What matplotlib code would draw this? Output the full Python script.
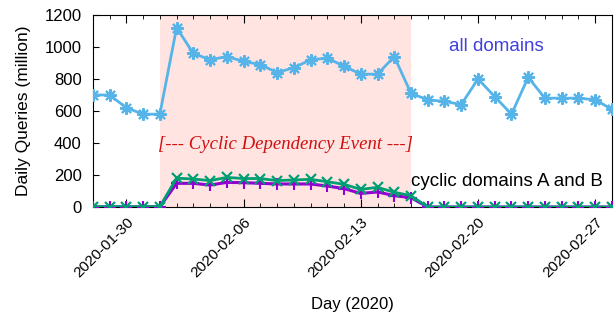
import numpy as np
import pandas as pd
import matplotlib
matplotlib.use("Agg")
import matplotlib.pyplot as plt
import matplotlib.dates as mdates

plt.rcParams['font.family'] = ['Liberation Sans', 'DejaVu Sans']

# data (millions of queries per day)
days = pd.date_range("2020-01-28", "2020-02-28", freq="D")

all_domains = [700, 700, 620, 580, 580, 1120, 960, 920, 940, 910, 890, 840,
               870, 920, 930, 880, 830, 830, 940, 710, 670, 660, 640, 800,
               690, 580, 810, 680, 680, 680, 670, 610]

domain_a = [2, 2, 2, 2, 3, 180, 175, 165, 185, 178, 178, 165,
            169, 173, 158, 142, 110, 123, 92, 71, 0, 0, 0, 0,
            0, 0, 0, 0, 0, 0, 0, 0]

domain_b = [1, 1, 1, 1, 2, 148, 148, 137, 154, 152, 148, 144,
            144, 144, 131, 115, 85, 94, 71, 58, 0, 0, 0, 0,
            0, 0, 0, 0, 0, 0, 0, 0]

event_start = pd.Timestamp("2020-02-01")
event_end = pd.Timestamp("2020-02-16")

fig = plt.figure(figsize=(6.15, 3.18), dpi=100)
ax = fig.add_axes([0.151, 0.349, 0.844, 0.604])

ax.axvspan(event_start, event_end, color='#ffe4e1', lw=0, zorder=0)

star = (8, 2, 0)
ax.plot(days, all_domains, color='#56b4e9', lw=2, marker=star, ms=9,
        mew=1.5, zorder=3)
ax.plot(days, domain_b, color='#9400d3', lw=2.2, marker='+', ms=8,
        mew=1.5, zorder=3)
ax.plot(days, domain_a, color='#009e73', lw=2, marker='x', ms=7,
        mew=1.6, zorder=4)

ax.set_xlim(days[0], days[-1])
ax.set_ylim(0, 1200)
ax.set_yticks(range(0, 1201, 200))

ax.xaxis.set_major_locator(mdates.DayLocator(bymonthday=[6, 13, 20, 27, 30]))
ax.xaxis.set_major_formatter(mdates.DateFormatter('%Y-%m-%d'))
ax.xaxis.set_minor_locator(mdates.DayLocator())
plt.setp(ax.get_xticklabels(), rotation=45, ha='right', rotation_mode='anchor')

ax.tick_params(axis='x', which='major', direction='in', length=6, top=True,
               labelsize=11, pad=6)
ax.tick_params(axis='x', which='minor', direction='in', length=3, top=True)
ax.tick_params(axis='y', direction='in', length=4, labelsize=12, pad=8,
               right=False)

ax.set_xlabel('Day (2020)', fontsize=12, labelpad=12)
ax.set_ylabel('Daily Queries (million)', fontsize=12.5, labelpad=10)

ax.text(pd.Timestamp("2020-02-21") + pd.Timedelta(hours=2), 1000,
        'all domains', color='#4040e0', fontsize=13.5, ha='center',
        va='center')
ax.text(pd.Timestamp("2020-02-08") + pd.Timedelta(hours=12), 390,
        '[--- Cyclic Dependency Event ---]', color='#d01010', fontsize=13.5,
        family=['Liberation Serif'], style='italic', ha='center', va='center')
ax.text(pd.Timestamp("2020-02-16"), 162,
        'cyclic domains A and B', color='black', fontsize=13.5,
        ha='left', va='center')

fig.savefig('out.png', dpi=100)
